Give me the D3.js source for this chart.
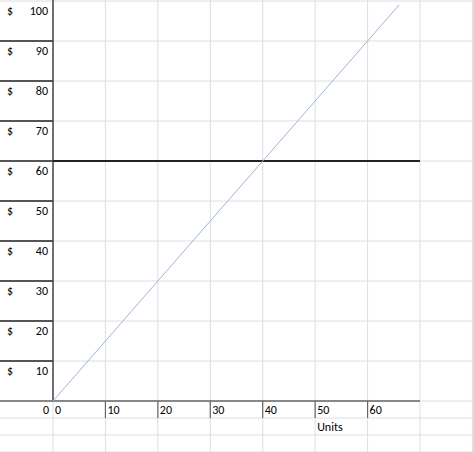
<!DOCTYPE html>
<html>
<head>
<meta charset="utf-8">
<script src="https://cdn.jsdelivr.net/npm/d3@7"></script>
<style>
  body { margin: 0; background: #fff; }
  text { font-family: Carlito, Calibri, "Open Sans", sans-serif; font-size: 12px; fill: #000; }
</style>
</head>
<body>
<svg width="474" height="452"></svg>
<script>
// cost line: units -> dollars
const units = [0, 66];
const dollars = [0, 99];
// fixed level line
const fixedUnits = [0, 70];
const fixedDollars = [60, 60];
// tick labels
const yTicks = [100, 90, 80, 70, 60, 50, 40, 30, 20, 10];
const xTicks = [0, 10, 20, 30, 40, 50, 60];
const xLabel = 'Units';

const svg = d3.select('svg');

// x in units, y in dollars, laid on the sheet's cell grid
const x = d3.scaleLinear().domain([0, 70]).range([53, 420]);
const y = d3.scaleLinear().domain([0, 100]).range([401, 1]);
const rowH = 17; // rows below the axis

// light sheet gridlines
const grid = svg.append('g').attr('stroke', '#dedede').attr('stroke-width', 1);
d3.range(0, 90, 10).forEach(v => {
  grid.append('line').attr('x1', x(v)).attr('x2', x(v)).attr('y1', 0).attr('y2', 452);
});
grid.append('line').attr('x1', 473.5).attr('x2', 473.5).attr('y1', 0).attr('y2', 452);
d3.range(0, 110, 10).forEach(v => {
  grid.append('line').attr('x1', 0).attr('x2', 474).attr('y1', y(v)).attr('y2', y(v));
});
[1, 2, 3].forEach(i => {
  grid.append('line').attr('x1', 0).attr('x2', 474)
    .attr('y1', y(0) + i * rowH).attr('y2', y(0) + i * rowH);
});

// left column: dark cell borders with $ labels
const left = svg.append('g');
yTicks.filter(v => v < 100).forEach(v => {
  left.append('line').attr('x1', 0).attr('x2', x(0)).attr('y1', y(v)).attr('y2', y(v))
    .attr('stroke', '#222').attr('stroke-width', 1.5);
});
yTicks.forEach(v => {
  left.append('text').attr('x', 7).attr('y', y(v) + 13.5).text('$');
  left.append('text').attr('x', 48).attr('y', y(v) + 13.5).attr('text-anchor', 'end').text(v);
});
left.append('text').attr('x', 49).attr('y', y(0) + 13).attr('text-anchor', 'end').text('0');

// y axis and x axis
svg.append('line').attr('x1', x(0)).attr('x2', x(0)).attr('y1', 0).attr('y2', y(0))
  .attr('stroke', '#444').attr('stroke-width', 1.5);
svg.append('line').attr('x1', 0).attr('x2', x(70)).attr('y1', y(0)).attr('y2', y(0))
  .attr('stroke', '#666').attr('stroke-width', 1.5);

// x ticks as cell borders below the axis
const xAxis = svg.append('g');
xTicks.filter(v => v > 0).forEach(v => {
  xAxis.append('line').attr('x1', x(v)).attr('x2', x(v)).attr('y1', y(0)).attr('y2', y(0) + rowH)
    .attr('stroke', '#666').attr('stroke-width', 1.2);
});
xTicks.forEach(v => {
  xAxis.append('text').attr('x', x(v) + 2).attr('y', y(0) + 13).text(v);
});
xAxis.append('text').attr('x', x(50) + 2).attr('y', y(0) + rowH + 13).text(xLabel);

// fixed line at 60
const line = d3.line().x(d => x(d[0])).y(d => y(d[1]));
svg.append('path')
  .datum(fixedUnits.map((u, i) => [u, fixedDollars[i]]))
  .attr('d', line).attr('fill', 'none').attr('stroke', '#222').attr('stroke-width', 1.8);

// cost line
svg.append('path')
  .datum(units.map((u, i) => [u, dollars[i]]))
  .attr('d', line).attr('fill', 'none').attr('stroke', '#9fb4dc').attr('stroke-width', 1);
</script>
</body>
</html>
